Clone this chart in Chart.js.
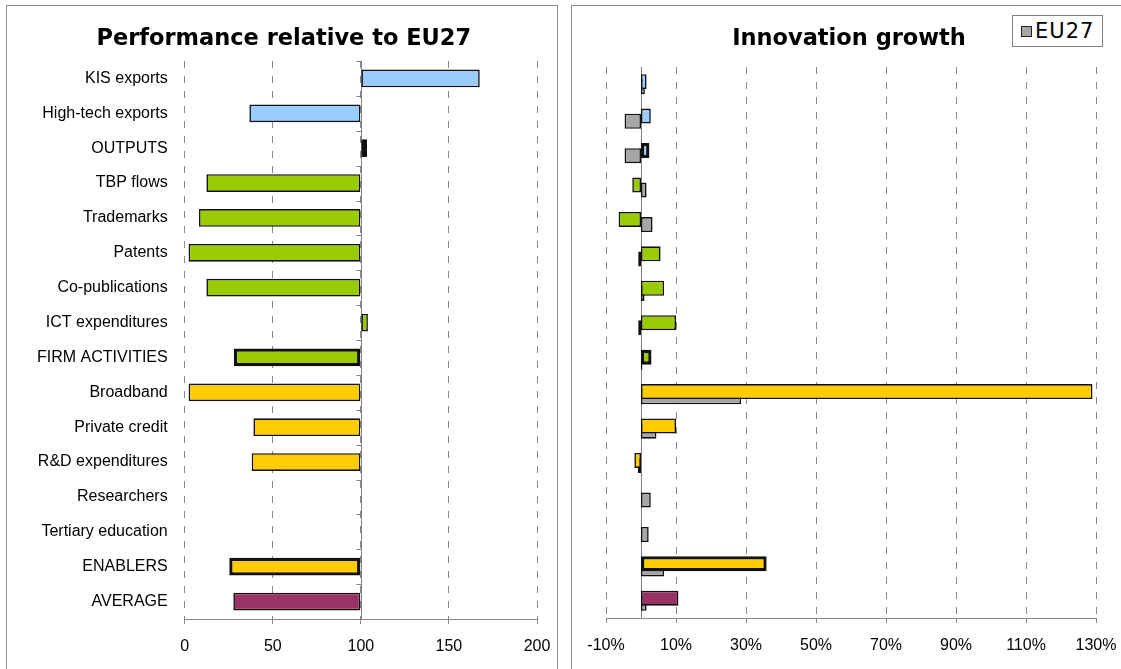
<!DOCTYPE html>
<html>
<head>
<meta charset="utf-8">
<script src="https://cdn.jsdelivr.net/npm/chart.js@4.4.1/dist/chart.umd.min.js"></script>
<style>
  body { margin: 0; background: #fff; width: 1121px; height: 669px; overflow: hidden; position: relative; }
  .frame { position: absolute; border: 1px solid #8c8c8c; }
  #leftFrame { left: 6px; top: 5px; width: 550px; height: 700px; }
  #rightFrame { left: 571px; top: 5px; width: 600px; height: 700px; }
  .box { position: absolute; top: 0; height: 669px; }
  #leftBox { left: 0; width: 560px; }
  #rightBox { left: 560px; width: 561px; }
  #legend { position: absolute; left: 1012px; top: 15px; width: 91px; height: 32px; box-sizing: border-box;
            border: 1px solid #808080; background: #fff; font: 21px "DejaVu Sans"; letter-spacing: 1px; }
  #legend .sw { position: absolute; left: 8px; top: 10px; width: 11px; height: 11px; box-sizing: border-box;
                background: #a6a6a6; border: 1.5px solid #222; }
  #legend .txt { position: absolute; left: 22px; top: 2px; line-height: 26px; }
</style>
</head>
<body>
<div class="frame" id="leftFrame"></div>
<div class="frame" id="rightFrame"></div>
<div class="box" id="leftBox"><canvas id="perfChart"></canvas></div>
<div class="box" id="rightBox"><canvas id="growthChart"></canvas></div>
<div id="legend"><span class="sw"></span><span class="txt">EU27</span></div>
<script>
// categories, top to bottom
const categories = ['KIS exports', 'High-tech exports', 'OUTPUTS', 'TBP flows', 'Trademarks', 'Patents',
  'Co-publications', 'ICT expenditures', 'FIRM ACTIVITIES', 'Broadband', 'Private credit',
  'R&D expenditures', 'Researchers', 'Tertiary education', 'ENABLERS', 'AVERAGE'];

// performance relative to EU27 (EU27 = 100)
const relPerf = [167.5, 36.7, 103.5, 12.3, 8.1, 2.2, 12.3, 104, 27.9, 2.2, 39, 38, null, null, 25.3, 27.6];

// innovation growth, %
const growth = [1.6, 2.8, 2.4, -2.5, -6.4, 5.6, 6.6, 10.0, 3.0, 129.0, 10.0, -1.9, null, null, 35.9, 10.7];
const growthEU27 = [1.1, -4.7, -4.7, 1.6, 3.3, -0.8, 1.0, -0.8, 0.4, 28.6, 4.4, -0.9, 2.8, 2.2, 6.6, 1.6];

const perfTicks = [0, 50, 100, 150, 200];
const growthTicks = [-10, 10, 30, 50, 70, 90, 110, 130];

// colour group per category and which rows are the headline ones (thick border)
const groups = ['out', 'out', 'out', 'firm', 'firm', 'firm', 'firm', 'firm', 'firm',
  'enab', 'enab', 'enab', 'enab', 'enab', 'enab', 'avg'];
const headline = ['OUTPUTS', 'FIRM ACTIVITIES', 'ENABLERS'];

const groupColor = { out: '#99ccff', firm: '#99cc00', enab: '#ffcc00', avg: '#993366' };
const barColors = groups.map(g => groupColor[g]);
const borderWidths = categories.map(c => headline.includes(c) ? 3.3 : 1.6);

const labelFont = { family: 'Liberation Sans', size: 16 };
const titleFont = { family: 'DejaVu Sans', size: 22.5, weight: 'bold' };
const gridGrey = '#8a8a8a';

// vertical axis line crossing the value axis (100 on the left, 0 on the right)
const crossAxis = {
  id: 'crossAxis',
  beforeDatasetsDraw(chart, args, opts) {
    const { ctx, chartArea } = chart;
    const xs = chart.scales.x, ys = chart.scales.y;
    const x = Math.round(xs.getPixelForValue(opts.at)) + 0.5;
    ctx.save();
    ctx.strokeStyle = '#808080';
    ctx.lineWidth = 1;
    ctx.beginPath();
    ctx.moveTo(x, chartArea.top);
    ctx.lineTo(x, chartArea.bottom);
    if (opts.tickLen) {
      for (let i = 0; i <= categories.length; i++) {
        const y = Math.round(ys.getPixelForValue(i - 0.5)) + 0.5;
        ctx.moveTo(x - opts.tickLen, y);
        ctx.lineTo(x, y);
      }
    }
    ctx.stroke();
    ctx.restore();
  }
};

function xAxis(ticks, fmt, height) {
  return {
    min: ticks[0],
    max: ticks[ticks.length - 1],
    ticks: { stepSize: ticks[1] - ticks[0], color: '#000', font: labelFont, padding: 13,
             callback: v => fmt(v) },
    grid: { color: gridGrey, lineWidth: 1, drawTicks: true, tickLength: 5, tickColor: gridGrey },
    border: { display: true, color: gridGrey, width: 1, dash: [7, 8] },
    afterFit(s) { s.height = height; s.paddingLeft = 0; s.paddingRight = 0; }
  };
}

new Chart(document.getElementById('perfChart'), {
  type: 'bar',
  data: {
    labels: categories,
    datasets: [{
      data: relPerf,
      base: 100,
      backgroundColor: barColors,
      borderColor: '#111',
      borderWidth: borderWidths,
      borderSkipped: false,
      categoryPercentage: 1,
      barPercentage: 0.51
    }]
  },
  options: {
    indexAxis: 'y',
    responsive: true,
    maintainAspectRatio: false,
    animation: false,
    layout: { padding: { left: 30.6, right: 23, top: 0, bottom: 10 } },
    scales: {
      x: xAxis(perfTicks, v => String(v), 40),
      y: {
        grid: { display: false, drawTicks: false },
        border: { display: false },
        ticks: { color: '#000', font: labelFont, padding: 17, autoSkip: false },
        afterFit(s) { s.width = 154.1; }
      }
    },
    plugins: {
      legend: { display: false },
      tooltip: { enabled: false },
      title: { display: true, text: 'Performance relative to EU27', color: '#000', font: titleFont,
               padding: { top: 25.5, bottom: 8.5 } },
      crossAxis: { at: 100, tickLen: 5 }
    }
  },
  plugins: [crossAxis]
});

new Chart(document.getElementById('growthChart'), {
  type: 'bar',
  data: {
    labels: categories,
    datasets: [{
      label: 'Country',
      data: growth,
      backgroundColor: barColors,
      borderColor: '#111',
      borderWidth: borderWidths,
      borderSkipped: false,
      categoryPercentage: 0.30,
      barPercentage: 2.9
    }, {
      label: 'EU27',
      data: growthEU27,
      backgroundColor: '#a6a6a6',
      borderColor: '#111',
      borderWidth: 1.6,
      borderSkipped: false,
      categoryPercentage: 0.30,
      barPercentage: 2.9
    }]
  },
  options: {
    indexAxis: 'y',
    responsive: true,
    maintainAspectRatio: false,
    animation: false,
    layout: { padding: { left: 42, right: 25, top: 0, bottom: 10 } },
    scales: {
      x: xAxis(growthTicks, v => v + '%', 41),
      y: {
        grid: { display: false, drawTicks: false },
        border: { display: false },
        ticks: { display: false },
        afterFit(s) { s.width = 4; }
      }
    },
    plugins: {
      legend: { display: false },
      tooltip: { enabled: false },
      title: { display: true, text: 'Innovation growth', color: '#000', font: titleFont,
               padding: { top: 25.5, bottom: 14.5 } },
      crossAxis: { at: 0 }
    }
  },
  plugins: [crossAxis]
});
</script>
</body>
</html>
